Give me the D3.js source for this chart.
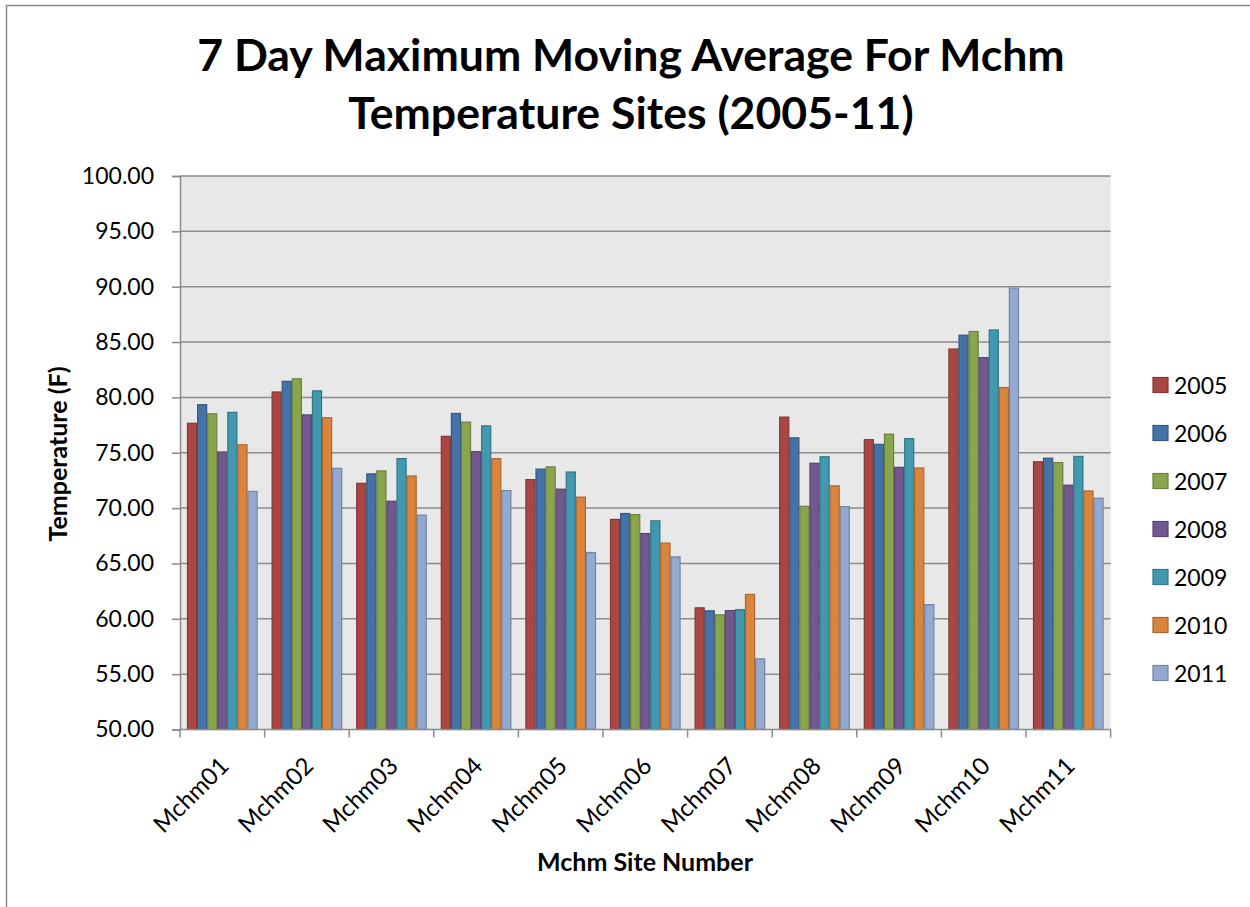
<!DOCTYPE html>
<html>
<head>
<meta charset="utf-8">
<script src="https://cdn.jsdelivr.net/npm/d3@7"></script>
<style>
  html, body { margin: 0; padding: 0; background: #ffffff; }
  svg { display: block; }
  text { font-family: Lato, "Open Sans", sans-serif; fill: #000; }
</style>
</head>
<body>
<svg id="chart" width="1250" height="907"></svg>
<script>
// Site names along the x axis
const sites = ["Mchm01","Mchm02","Mchm03","Mchm04","Mchm05","Mchm06","Mchm07","Mchm08","Mchm09","Mchm10","Mchm11"];
// Years shown as series
const years = ["2005","2006","2007","2008","2009","2010","2011"];
// 7-day maximum moving average temperature (F), one array per year, in site order
const y2005 = [77.66, 80.49, 72.24, 76.48, 72.57, 68.98, 60.99, 78.22, 76.18, 84.37, 74.18];
const y2006 = [79.34, 81.45, 73.09, 78.55, 73.52, 69.51, 60.72, 76.35, 75.76, 85.62, 74.51];
const y2007 = [78.52, 81.68, 73.36, 77.76, 73.72, 69.41, 60.36, 70.16, 76.68, 85.95, 74.11];
const y2008 = [75.07, 78.42, 70.62, 75.10, 71.71, 67.70, 60.74, 74.05, 73.68, 83.59, 72.07];
const y2009 = [78.65, 80.59, 74.47, 77.43, 73.26, 68.85, 60.82, 74.64, 76.28, 86.09, 74.67];
const y2010 = [75.72, 78.16, 72.90, 74.47, 70.99, 66.84, 62.20, 72.01, 73.62, 80.89, 71.55];
const y2011 = [71.51, 73.59, 69.37, 71.58, 65.99, 65.59, 56.38, 70.13, 61.28, 89.87, 70.89];
const seriesValues = [y2005, y2006, y2007, y2008, y2009, y2010, y2011];
// Y axis tick values
const yTicks = [50, 55, 60, 65, 70, 75, 80, 85, 90, 95, 100];

const colors = ["#AA4643", "#4572A7", "#89A54E", "#71588F", "#4198AF", "#DB843D", "#93A9CF"];

const svg = d3.select("#chart");

// Outer chart frame
svg.append("rect")
  .attr("x", 6.5).attr("y", 5.5)
  .attr("width", 1300).attr("height", 1000)
  .attr("fill", "#fff").attr("stroke", "#8a8a8a").attr("stroke-width", 1.5);

const plot = { left: 180, right: 1110.6, top: 176, bottom: 729.5 };

const x0 = d3.scaleBand().domain(sites).range([plot.left, plot.right]).paddingInner(0).paddingOuter(0);
const x1 = d3.scaleBand().domain(years)
  .range([x0.bandwidth() * 0.083, x0.bandwidth() * (1 - 0.083)]).padding(0);
const y = d3.scaleLinear().domain([50, 100]).range([plot.bottom, plot.top]);

// Plot background
svg.append("rect")
  .attr("x", plot.left).attr("y", plot.top)
  .attr("width", plot.right - plot.left).attr("height", plot.bottom - plot.top)
  .attr("fill", "#e8e8e8");

// Horizontal gridlines
svg.append("g")
  .selectAll("line")
  .data(yTicks.filter(d => d !== 50))
  .join("line")
  .attr("x1", plot.left).attr("x2", plot.right)
  .attr("y1", d => y(d)).attr("y2", d => y(d))
  .attr("stroke", "#8c8c8c").attr("stroke-width", 1.5);

// Bars
const groups = svg.append("g")
  .selectAll("g")
  .data(years.map((yr, i) => ({ year: yr, color: colors[i], values: seriesValues[i] })))
  .join("g");

groups.selectAll("rect")
  .data(s => s.values.map((v, j) => ({ site: sites[j], value: v, year: s.year, color: s.color })))
  .join("rect")
  .attr("x", d => x0(d.site) + x1(d.year) + 0.5)
  .attr("y", d => y(d.value))
  .attr("width", x1.bandwidth() - 1)
  .attr("height", d => y(50) - y(d.value))
  .attr("fill", d => d.color)
  .attr("stroke", d => d3.color(d.color).darker(0.7))
  .attr("stroke-width", 1.2);

// Y axis
const yAxis = d3.axisLeft(y).tickValues(yTicks).tickSize(8).tickPadding(18)
  .tickFormat(d3.format(".2f"));
const yg = svg.append("g").attr("transform", `translate(${plot.left},0)`).call(yAxis);
yg.select(".domain").attr("stroke", "#8a8a8a").attr("stroke-width", 1.5);
yg.selectAll(".tick line").attr("stroke", "#8a8a8a").attr("stroke-width", 1.5);
yg.selectAll(".tick text")
  .attr("font-family", "Lato, sans-serif").attr("font-size", 23).attr("fill", "#000");

// X axis line and category boundary ticks
const xg = svg.append("g");
xg.append("line")
  .attr("x1", plot.left).attr("x2", plot.right)
  .attr("y1", plot.bottom).attr("y2", plot.bottom)
  .attr("stroke", "#8a8a8a").attr("stroke-width", 1.5);
const bounds = sites.map(s => x0(s)).concat([plot.right]);
xg.selectAll("line.tk")
  .data(bounds)
  .join("line").attr("class", "tk")
  .attr("x1", d => d).attr("x2", d => d)
  .attr("y1", plot.bottom).attr("y2", plot.bottom + 8)
  .attr("stroke", "#8a8a8a").attr("stroke-width", 1.5);

// Rotated category labels
xg.selectAll("text")
  .data(sites)
  .join("text")
  .attr("transform", d => `translate(${x0(d) + x0.bandwidth() / 2 + 8},${plot.bottom + 38}) rotate(-45)`)
  .attr("text-anchor", "end")
  .attr("font-size", 24)
  .text(d => d);

// Title
svg.append("text")
  .attr("x", 631).attr("y", 71)
  .attr("text-anchor", "middle")
  .attr("font-size", 44.6).attr("font-weight", "bold")
  .text("7 Day Maximum Moving Average For Mchm");
svg.append("text")
  .attr("x", 631).attr("y", 129)
  .attr("text-anchor", "middle")
  .attr("font-size", 44.6).attr("font-weight", "bold")
  .text("Temperature Sites (2005-11)");

// Axis titles
svg.append("text")
  .attr("x", 645).attr("y", 871)
  .attr("text-anchor", "middle")
  .attr("font-size", 25).attr("font-weight", "bold")
  .text("Mchm Site Number");
svg.append("text")
  .attr("transform", `translate(67,454) rotate(-90)`)
  .attr("text-anchor", "middle")
  .attr("font-size", 25).attr("font-weight", "bold")
  .text("Temperature (F)");

// Legend
const legend = svg.append("g").attr("transform", "translate(1153,0)");
const li = legend.selectAll("g")
  .data(years)
  .join("g")
  .attr("transform", (d, i) => `translate(0,${385 + i * 48})`);
li.append("rect")
  .attr("x", 0).attr("y", -7.5).attr("width", 15).attr("height", 15)
  .attr("fill", (d, i) => colors[i])
  .attr("stroke", (d, i) => d3.color(colors[i]).darker(0.7))
  .attr("stroke-width", 1.2);
li.append("text")
  .attr("x", 21).attr("y", 8.5)
  .attr("font-size", 23)
  .text(d => d);
</script>
</body>
</html>
